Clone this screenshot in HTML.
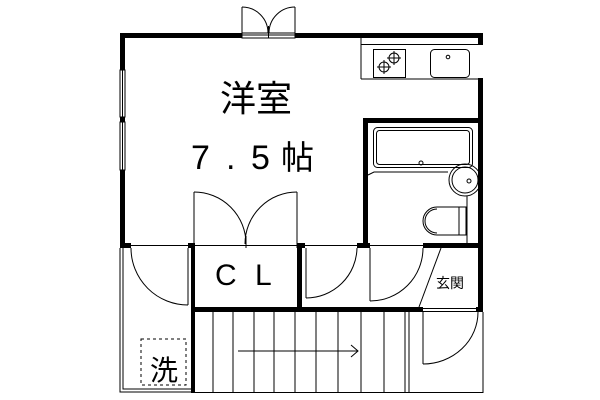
<!DOCTYPE html>
<html><head><meta charset="utf-8"><style>
html,body{margin:0;padding:0;background:#fff;width:600px;height:400px;overflow:hidden}
</style></head><body>
<svg width="600" height="400" viewBox="0 0 600 400" xmlns="http://www.w3.org/2000/svg" font-family="Liberation Sans, Noto Sans CJK JP, sans-serif">
<g fill="#000">
<rect x="120" y="33" width="122" height="5"/>
<rect x="295" y="33" width="188" height="5"/>
<rect x="120" y="33" width="5" height="37"/>
<rect x="120" y="170" width="5" height="78"/>
<rect x="120" y="117" width="5" height="5"/>
<rect x="478" y="33" width="5" height="12"/>
<rect x="478" y="78" width="5" height="234"/>
<rect x="363" y="118" width="120" height="5"/>
<rect x="363" y="118" width="5" height="130"/>
<rect x="120" y="243" width="11" height="5"/>
<rect x="188" y="243" width="7" height="5"/>
<rect x="297" y="243" width="8" height="5"/>
<rect x="357" y="243" width="13" height="5"/>
<rect x="423" y="243" width="60" height="5"/>
<rect x="191" y="243" width="4" height="150"/>
<rect x="297" y="243" width="5" height="69"/>
<rect x="191" y="307" width="232" height="5"/>
<rect x="476" y="307" width="7" height="5"/>
</g>
<g fill="none" stroke="#000" stroke-width="1">
<line x1="242" y1="35" x2="295" y2="35"/>
<rect x="242" y="33" width="53" height="5"/>
<line x1="242" y1="7" x2="242" y2="33"/>
<line x1="295" y1="7" x2="295" y2="33"/>
<path d="M242 7 A26 26 0 0 1 268 33"/>
<path d="M295 7 A26 26 0 0 0 269 33"/>
<line x1="268.5" y1="26" x2="268.5" y2="38"/>
<rect x="120" y="70" width="5" height="47"/>
<rect x="120" y="122" width="5" height="48"/>
<line x1="122.5" y1="70" x2="122.5" y2="170"/>
<line x1="361" y1="38" x2="361" y2="79"/>
<line x1="361" y1="44.5" x2="478" y2="44.5"/>
<line x1="361" y1="79" x2="478" y2="79"/>
<rect x="373.5" y="49.5" width="32" height="28"/>
<circle cx="394" cy="58" r="5"/><circle cx="384" cy="67" r="5"/>
<path d="M394 51v14M387 58h14M384 60v14M377 67h14"/>
<rect x="430.5" y="49.5" width="39" height="28" rx="4"/>
<circle cx="448" cy="57" r="1.8"/>
<rect x="373.5" y="127.5" width="99" height="40" rx="4"/>
<rect x="376.5" y="130.5" width="93" height="34" rx="3"/>
<circle cx="421" cy="163" r="2"/>
<path d="M368 175 L374 172 L448 172"/>
<circle cx="465" cy="180" r="16"/><circle cx="465" cy="180" r="13"/>
<circle cx="469" cy="181" r="2"/>
<line x1="467" y1="196" x2="467" y2="243"/>
<path d="M437 207 H466 V235 H437 A14 14 0 0 1 437 207Z"/>
<path d="M437 209 A12 12 0 0 0 437 233"/>
<line x1="459" y1="207" x2="459" y2="235"/>
<line x1="194" y1="192" x2="194" y2="248"/>
<line x1="297" y1="192" x2="297" y2="248"/>
<path d="M194 192 A52 52 0 0 1 246 244"/>
<path d="M297 192 A52 52 0 0 0 245 244"/>
<line x1="246" y1="236" x2="246" y2="248"/>
<line x1="195" y1="245.5" x2="297" y2="245.5"/>
<line x1="131" y1="245.5" x2="188" y2="245.5"/>
<line x1="305" y1="245.5" x2="357" y2="245.5"/>
<line x1="370" y1="245.5" x2="423" y2="245.5"/>
<path d="M131 248 A57 57 0 0 0 188 305"/>
<line x1="188" y1="248" x2="188" y2="305"/>
<path d="M120 248 V392 H191"/>
<path d="M123 248 V389 H191"/>
<rect x="141" y="339" width="45" height="46" stroke-dasharray="3,3"/>
<line x1="306" y1="248" x2="306" y2="298"/>
<path d="M306 298 A51 51 0 0 0 357 248"/>
<line x1="370" y1="248" x2="370" y2="301"/>
<path d="M370 301 A53 53 0 0 0 423 248"/>
<line x1="441" y1="248" x2="419" y2="307"/>
<path d="M195 392.5 H483 V312"/>
<path d="M213 312V392M233 312V392M254 312V392M274 312V392M295 312V392M316 312V392M338 312V392M361 312V392M384 312V392M405 312V392M409 312V392"/>
<line x1="238" y1="351" x2="358" y2="351"/>
<path d="M351 345 L358 351 L351 357"/>
<line x1="423" y1="308.5" x2="476" y2="308.5"/>
<line x1="423" y1="311.5" x2="476" y2="311.5"/>
<line x1="423" y1="312" x2="423" y2="364"/>
<path d="M423 364 A55 52 0 0 0 478 312"/>
</g>
<g fill="#000">
<text x="220" y="111" font-size="36">洋室</text>
<text x="191" y="169" font-size="34">7</text>
<text x="226" y="169" font-size="34">.</text>
<text x="251" y="169" font-size="34">5</text>
<text x="281" y="169" font-size="33">帖</text>
<text x="215" y="285" font-size="30">C</text>
<text x="255" y="285" font-size="30">L</text>
<text x="436" y="288" font-size="14">玄関</text>
<text x="150" y="380" font-size="28">洗</text>
</g>
</svg>
</body></html>
